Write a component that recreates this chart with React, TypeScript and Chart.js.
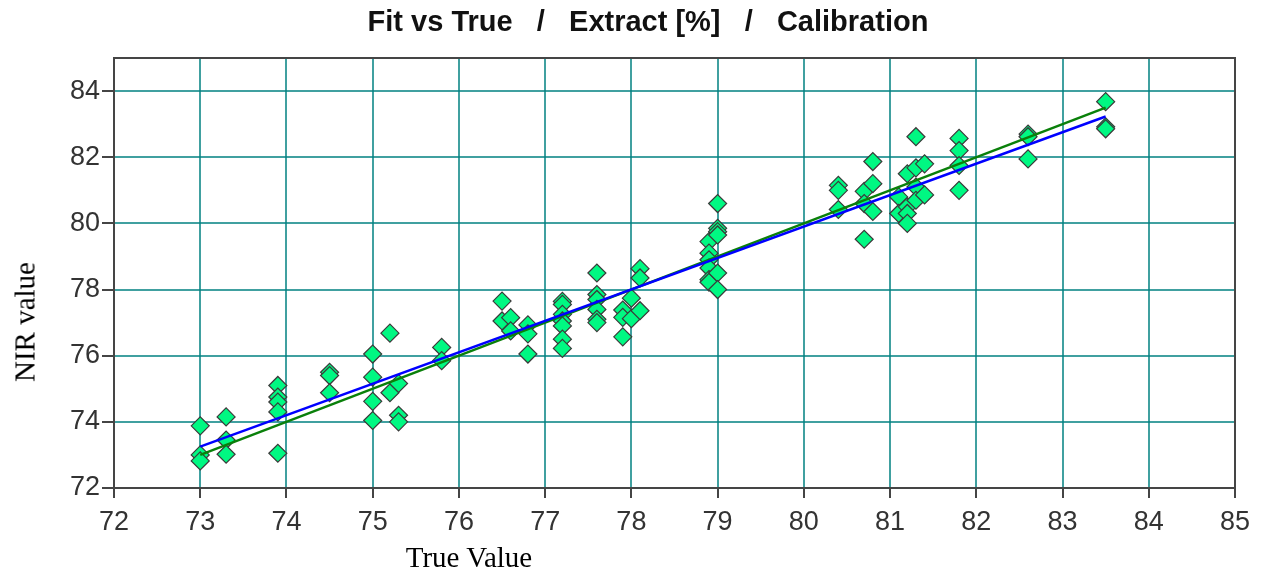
import React, { useEffect, useRef } from "react";
import { Chart, registerables } from "chart.js";

Chart.register(...registerables);

// Calibration samples: reference (true) extract vs. NIR prediction
const trueValues = [
  73, 73, 73,
  73.3, 73.3, 73.3,
  73.9, 73.9, 73.9, 73.9, 73.9,
  74.5, 74.5, 74.5,
  75, 75, 75, 75,
  75.2, 75.2,
  75.3, 75.3, 75.3,
  75.8, 75.8,
  76.5, 76.5,
  76.6, 76.6,
  76.8, 76.8, 76.8,
  77.2, 77.2, 77.2, 77.2, 77.2, 77.2, 77.2,
  77.6, 77.6, 77.6, 77.6, 77.6, 77.6,
  77.9, 77.9, 77.9,
  78, 78,
  78.1, 78.1, 78.1,
  78.9, 78.9, 78.9, 78.9, 78.9, 78.9,
  79, 79, 79, 79, 79, 79,
  80.4, 80.4, 80.4,
  80.7, 80.7, 80.7,
  80.8, 80.8, 80.8,
  81.1, 81.1,
  81.2, 81.2, 81.2, 81.2,
  81.3, 81.3, 81.3, 81.3,
  81.4, 81.4,
  81.8, 81.8, 81.8, 81.8,
  82.6, 82.6, 82.6,
  83.5, 83.5, 83.5,
];

const nirValues = [
  73.88, 73.0, 72.82,
  74.15, 73.45, 73.02,
  75.1, 74.75, 74.6, 74.3, 73.05,
  75.5, 75.4, 74.88,
  76.05, 75.35, 74.62, 74.04,
  76.68, 74.88,
  75.16, 74.2, 74.0,
  76.25, 75.85,
  77.65, 77.05,
  77.15, 76.75,
  76.93, 76.66, 76.05,
  77.64, 77.55, 77.25, 77.05, 76.9, 76.5, 76.22,
  78.5, 77.85, 77.7, 77.4, 77.1, 77.0,
  77.38, 77.16, 76.57,
  77.74, 77.12,
  78.63, 78.35, 77.36,
  79.45, 79.1, 78.9, 78.65, 78.3, 78.22,
  80.6, 79.85, 79.75, 79.65, 78.5, 78.0,
  81.15, 81.0, 80.42,
  80.97, 80.6, 79.52,
  81.87, 81.2, 80.36,
  80.8, 80.3,
  81.5, 80.5, 80.3, 80.0,
  82.62, 81.68, 81.1, 80.7,
  81.8, 80.86,
  82.57, 82.2, 81.75, 81.0,
  82.7, 82.62, 81.95,
  83.68, 82.92, 82.86,
];

// Regression line (blue) and 1:1 target line (green)
const fitX = [73, 83.5];
const fitY = [73.25, 83.23];
const targetX = [73, 83.5];
const targetY = [73, 83.5];

const xTicks = [72, 73, 74, 75, 76, 77, 78, 79, 80, 81, 82, 83, 84, 85];
const yTicks = [72, 74, 76, 78, 80, 82, 84];

const titleText = "Fit vs True   /   Extract [%]   /   Calibration";
const yAxisLabel = "NIR value";
const xAxisLabel = "True Value";

const SANS = '"Liberation Sans", Arial, sans-serif';
const SERIF = '"Liberation Serif", "Times New Roman", serif';
const GRID = "rgba(0, 128, 128, 0.75)";
const AXIS = "#454545";

const framePlugin = {
  id: "plotFrame",
  beforeDatasetsDraw(chart: any) {
    const { ctx, chartArea: a } = chart;
    ctx.save();
    ctx.strokeStyle = AXIS;
    ctx.lineWidth = 2;
    ctx.strokeRect(a.left, a.top, a.right - a.left, a.bottom - a.top);
    ctx.restore();
  },
};

export default function App() {
  const canvasRef = useRef<HTMLCanvasElement | null>(null);

  useEffect(() => {
    document.body.style.margin = "0";
    const canvas = canvasRef.current;
    if (!canvas) return;

    const points = trueValues.map((x, i) => ({ x, y: nirValues[i] }));
    const fitLine = fitX.map((x, i) => ({ x, y: fitY[i] }));
    const targetLine = targetX.map((x, i) => ({ x, y: targetY[i] }));

    const chart = new Chart(canvas, {
      type: "scatter",
      data: {
        datasets: [
          {
            type: "line",
            label: "Fit",
            data: fitLine,
            borderColor: "#0000ff",
            borderWidth: 2.5,
            pointRadius: 0,
            fill: false,
            order: 0,
          },
          {
            type: "line",
            label: "Target",
            data: targetLine,
            borderColor: "#0a800a",
            borderWidth: 2.5,
            pointRadius: 0,
            fill: false,
            order: 1,
          },
          {
            label: "Samples",
            data: points,
            pointStyle: "rectRot",
            pointRadius: 9,
            pointHoverRadius: 9,
            backgroundColor: "rgb(0, 248, 130)",
            borderColor: "#3a3a3a",
            borderWidth: 1.2,
            order: 2,
          },
        ],
      } as any,
      options: {
        responsive: false,
        animation: false,
        devicePixelRatio: 1,
        layout: { padding: { left: 0, right: 30, top: 58, bottom: 0 } },
        plugins: {
          legend: { display: false },
          tooltip: { enabled: false },
          title: { display: false },
        },
        scales: {
          x: {
            type: "linear",
            min: 72,
            max: 85,
            afterBuildTicks: (s: any) => {
              s.ticks = xTicks.map((v) => ({ value: v }));
            },
            afterFit: (s: any) => {
              s.height = 83;
            },
            grid: {
              color: GRID,
              lineWidth: 2,
              tickLength: 10,
              tickColor: AXIS,
              tickWidth: 2,
            },
            border: { color: AXIS, width: 2 },
            ticks: {
              color: "#333",
              font: { family: SANS, size: 27 },
              padding: 8,
              maxRotation: 0,
              autoSkip: false,
            },
          },
          y: {
            type: "linear",
            min: 72,
            max: 85,
            afterBuildTicks: (s: any) => {
              s.ticks = yTicks.map((v) => ({ value: v }));
            },
            afterFit: (s: any) => {
              s.width = 114;
            },
            grid: {
              color: GRID,
              lineWidth: 2,
              tickLength: 12,
              tickColor: AXIS,
              tickWidth: 2,
            },
            border: { color: AXIS, width: 2 },
            ticks: {
              color: "#333",
              font: { family: SANS, size: 27 },
              padding: 2,
              autoSkip: false,
            },
          },
        },
      },
      plugins: [framePlugin],
    });

    return () => chart.destroy();
  }, []);

  return (
    <div style={{ position: "relative", width: 1265, height: 571, overflow: "hidden", background: "#fff" }}>
      <canvas ref={canvasRef} width={1265} height={571} style={{ position: "absolute", left: 0, top: 0 }} />
      <div
        style={{
          position: "absolute",
          left: 648,
          top: 21,
          transform: "translate(-50%, -50%)",
          whiteSpace: "pre",
          font: `bold 29px ${SANS}`,
          color: "#111",
        }}
      >
        {titleText}
      </div>
      <div
        style={{
          position: "absolute",
          left: 25,
          top: 322,
          transform: "translate(-50%, -50%) rotate(-90deg)",
          whiteSpace: "pre",
          font: `29px ${SERIF}`,
          color: "#000",
        }}
      >
        {yAxisLabel}
      </div>
      <div
        style={{
          position: "absolute",
          left: 469,
          top: 557,
          transform: "translate(-50%, -50%)",
          whiteSpace: "pre",
          font: `29px ${SERIF}`,
          color: "#000",
        }}
      >
        {xAxisLabel}
      </div>
    </div>
  );
}
